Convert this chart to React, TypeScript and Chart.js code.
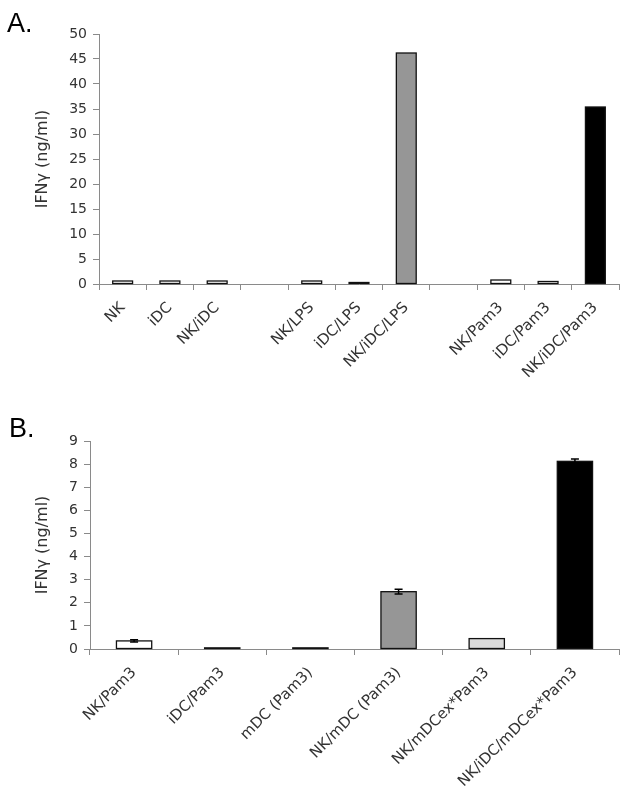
import React, { useEffect, useRef } from "react";
import { Chart, registerables } from "chart.js";

Chart.register(...registerables);

// Panel A data
const catsA = ["NK", "iDC", "NK/iDC", "", "NK/LPS", "iDC/LPS", "NK/iDC/LPS", "", "NK/Pam3", "iDC/Pam3", "NK/iDC/Pam3"];
const valsA = [0.6, 0.6, 0.6, null, 0.6, 0.3, 46.2, null, 0.8, 0.5, 35.4];
const colorsA = ["#ffffff", "#ffffff", "#ffffff", "#ffffff", "#ffffff", "#ffffff", "#969696", "#ffffff", "#ffffff", "#ffffff", "#000000"];

// Panel B data
const catsB = ["NK/Pam3", "iDC/Pam3", "mDC (Pam3)", "NK/mDC (Pam3)", "NK/mDCex*Pam3", "NK/iDC/mDCex*Pam3"];
const valsB = [0.35, 0.05, 0.05, 2.48, 0.45, 8.12];
const errsB = [0.05, 0, 0, 0.1, 0, 0.1];
const colorsB = ["#ffffff", "#ffffff", "#ffffff", "#969696", "#dcdcdc", "#000000"];

const yTitle = "IFNγ (ng/ml)";
const FONT = "'DejaVu Sans', sans-serif";
const AXIS = "#8a8a8a";
const TEXT = "#333333";

// Excel-style outline centred on the bar edge (so even tiny bars show as dark lines)
const outlinePlugin = {
  id: "outline",
  afterDatasetsDraw(chart: any) {
    const meta = chart.getDatasetMeta(0);
    const ctx = chart.ctx;
    ctx.save();
    ctx.strokeStyle = "#111111";
    ctx.lineWidth = 1.3;
    meta.data.forEach((bar: any, i: number) => {
      const v = chart.data.datasets[0].data[i];
      if (v == null) return;
      const p = bar.getProps(["x", "y", "base", "width"], true);
      ctx.strokeRect(p.x - p.width / 2, p.y, p.width, p.base - p.y);
    });
    ctx.restore();
  },
};

function errorBarPlugin(errs: number[]) {
  return {
    id: "errbars",
    afterDatasetsDraw(chart: any) {
      const meta = chart.getDatasetMeta(0);
      const ys = chart.scales.y;
      const ctx = chart.ctx;
      ctx.save();
      ctx.strokeStyle = "#000";
      ctx.lineWidth = 1.5;
      meta.data.forEach((bar: any, i: number) => {
        const e = errs[i];
        const v = chart.data.datasets[0].data[i];
        if (!e || v == null) return;
        const x = bar.x;
        const yt = ys.getPixelForValue(v + e);
        const yb = ys.getPixelForValue(v - e);
        ctx.beginPath();
        ctx.moveTo(x, yt);
        ctx.lineTo(x, yb);
        ctx.moveTo(x - 4, yt);
        ctx.lineTo(x + 4, yt);
        ctx.moveTo(x - 4, yb);
        ctx.lineTo(x + 4, yb);
        ctx.stroke();
      });
      ctx.restore();
    },
  };
}

function makeConfig(
  labels: string[],
  data: (number | null)[],
  colors: string[],
  max: number,
  step: number,
  yWidth: number,
  xHeight: number,
  padTop: number,
  barPct: number,
  plugins: any[]
): any {
  return {
    type: "bar",
    data: {
      labels,
      datasets: [
        {
          data,
          backgroundColor: colors,
          borderWidth: 0,
          barPercentage: barPct,
          categoryPercentage: 1,
        },
      ],
    },
    plugins: [outlinePlugin, ...plugins],
    options: {
      responsive: false,
      animation: false,
      layout: { padding: { top: padTop, right: 10, bottom: 0, left: 0 } },
      plugins: { legend: { display: false }, tooltip: { enabled: false } },
      scales: {
        x: {
          offset: true,
          grid: { display: true, drawOnChartArea: false, drawTicks: true, tickLength: 6, color: AXIS, offset: true },
          border: { display: true, color: AXIS, width: 1 },
          ticks: {
            autoSkip: false,
            minRotation: 45,
            maxRotation: 45,
            color: TEXT,
            font: { family: FONT, size: 15 },
            padding: 9,
          },
          afterFit: (s: any) => {
            s.height = xHeight;
          },
        },
        y: {
          min: 0,
          max,
          grid: { display: true, drawOnChartArea: false, drawTicks: true, tickLength: 6, color: AXIS },
          border: { display: true, color: AXIS, width: 1 },
          ticks: { stepSize: step, color: TEXT, font: { family: FONT, size: 14 }, padding: 6 },
          title: {
            display: true,
            text: yTitle,
            color: TEXT,
            font: { family: FONT, size: 16 },
            padding: { top: 33, bottom: 0 },
          },
          afterFit: (s: any) => {
            s.width = yWidth;
          },
        },
      },
    },
  };
}

export default function App() {
  const refA = useRef<HTMLCanvasElement>(null);
  const refB = useRef<HTMLCanvasElement>(null);

  useEffect(() => {
    const a = new Chart(
      refA.current as HTMLCanvasElement,
      makeConfig(catsA, valsA, colorsA, 50, 5, 99, 116, 34, 0.42, [])
    );
    const b = new Chart(
      refB.current as HTMLCanvasElement,
      makeConfig(catsB, valsB, colorsB, 9, 1, 90, 143, 41, 0.4, [errorBarPlugin(errsB)])
    );
    return () => {
      a.destroy();
      b.destroy();
    };
  }, []);

  const letter: React.CSSProperties = {
    position: "absolute",
    fontFamily: "'Liberation Sans', Arial, sans-serif",
    fontSize: 27,
    color: "#000",
    lineHeight: 1,
  };

  return (
    <div style={{ position: "absolute", left: 0, top: 0, width: 629, height: 792, background: "#fff" }}>
      <canvas ref={refA} width={629} height={400} style={{ position: "absolute", left: 0, top: 0, width: 629, height: 400 }} />
      <canvas ref={refB} width={629} height={392} style={{ position: "absolute", left: 0, top: 400, width: 629, height: 392 }} />
      <div style={{ ...letter, left: 7, top: 10 }}>A.</div>
      <div style={{ ...letter, left: 9, top: 415 }}>B.</div>
    </div>
  );
}
